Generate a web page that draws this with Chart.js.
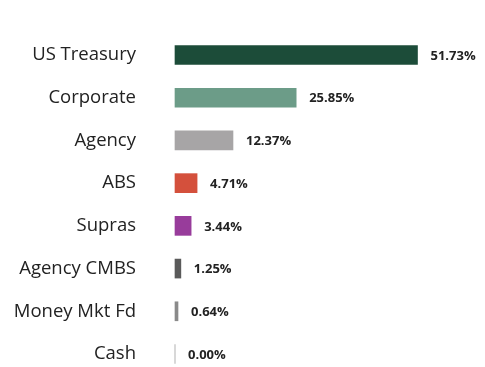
<!DOCTYPE html>
<html>
<head>
<meta charset="utf-8">
<script src="https://cdn.jsdelivr.net/npm/chart.js@4/dist/chart.umd.min.js"></script>
<style>
  html, body { margin: 0; padding: 0; background: #ffffff; }
  #wrap { width: 485px; height: 367px; }
</style>
</head>
<body>
<div id="wrap"><canvas id="c" width="485" height="367"></canvas></div>
<script>
// Portfolio sector allocation (% of holdings)
const sectors = ['US Treasury', 'Corporate', 'Agency', 'ABS', 'Supras', 'Agency CMBS', 'Money Mkt Fd', 'Cash'];
const weights = [51.73, 25.85, 12.37, 4.71, 3.44, 1.25, 0.64, 0.00];
const barColors = ['#1c4c39', '#6c9c88', '#a7a5a6', '#d4503c', '#983c9b', '#5a5a5a', '#8a8a8a', '#8a8a8a'];

// Draws the percentage text just past the end of each bar
const valueLabels = {
  id: 'valueLabels',
  afterDatasetsDraw(chart) {
    const { ctx } = chart;
    const meta = chart.getDatasetMeta(0);
    ctx.save();
    ctx.font = 'bold 13px "Open Sans", sans-serif';
    ctx.fillStyle = '#222222';
    ctx.textAlign = 'left';
    ctx.textBaseline = 'middle';
    meta.data.forEach((bar, i) => {
      ctx.fillText(weights[i].toFixed(2) + '%', bar.x + 13, bar.y + 1);
    });
    ctx.restore();
  }
};

new Chart(document.getElementById('c'), {
  type: 'bar',
  data: {
    labels: sectors,
    datasets: [{
      data: weights,
      backgroundColor: barColors,
      borderWidth: 0,
      barThickness: 19,
      clip: false
    }]
  },
  options: {
    indexAxis: 'y',
    responsive: false,
    animation: false,
    layout: { padding: { top: 55, bottom: 13, left: 0, right: 10 } },
    plugins: { legend: { display: false }, tooltip: { enabled: false } },
    scales: {
      x: { display: false, min: 0, max: 64 },
      y: {
        offset: false,
        grid: { display: false, drawTicks: false },
        border: { display: false },
        ticks: {
          padding: 39,
          color: '#222222',
          font: { family: '"Open Sans", sans-serif', size: 18.5 }
        },
        afterFit(scale) { scale.width = 175; scale.paddingTop = 0; scale.paddingBottom = 0; }
      }
    }
  },
  plugins: [valueLabels]
});
</script>
</body>
</html>
